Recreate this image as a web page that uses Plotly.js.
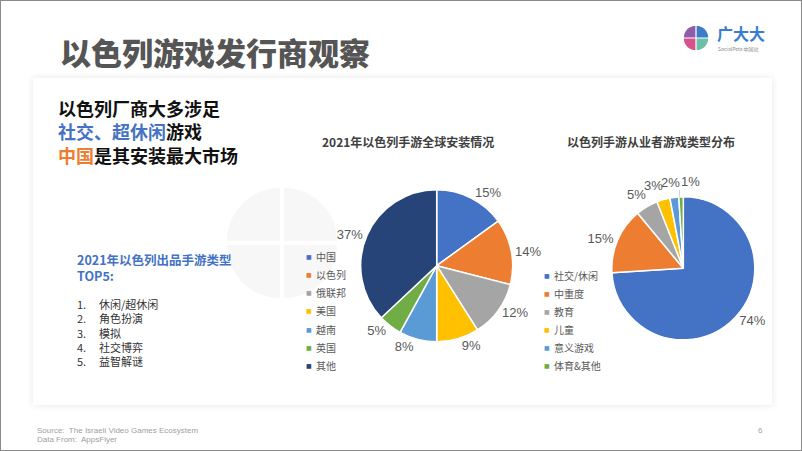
<!DOCTYPE html>
<html>
<head>
<meta charset="utf-8">
<script src="https://cdn.plot.ly/plotly-3.0.1.min.js"></script>
<style>
html,body{margin:0;padding:0;background:#fff;}
#wrap{position:relative;width:802px;height:451px;overflow:hidden;background:#fff;}
#card{position:absolute;left:33px;top:78px;width:739px;height:327px;background:#fff;box-shadow:0 0 7px rgba(0,0,0,0.10);}
#plot{position:absolute;left:0;top:0;width:802px;height:451px;}
#frame{position:absolute;left:0;top:0;width:802px;height:451px;box-sizing:border-box;border:1px solid #8a8a8a;pointer-events:none;}
</style>
</head>
<body>
<div id="wrap"><div id="card"></div><div id="plot"></div><div id="frame"></div></div>
<script>
// ---- data ----
const installCountries = ['中国','以色列','俄联邦','美国','越南','英国','其他'];
const installShares = [15, 14, 12, 9, 8, 5, 37];
const installColors = ['#4472C4','#ED7D31','#A5A5A5','#FFC000','#5B9BD5','#70AD47','#264478'];

const genreTypes = ['社交/休闲','中重度','教育','儿童','意义游戏','体育&其他'];
const genreShares = [74, 15, 5, 3, 2, 1];
const genreColors = ['#4472C4','#ED7D31','#A5A5A5','#FFC000','#5B9BD5','#70AD47'];

const top5Genres = ['休闲/超休闲','角色扮演','模拟','社交博弈','益智解谜'];

const pageTitle = '以色列游戏发行商观察';
const chart1Title = '2021年以色列手游全球安装情况';
const chart2Title = '以色列手游从业者游戏类型分布';

// ---- helpers ----
const W = 802, H = 451;
const px = x => x / W;
const py = y => 1 - y / H;
const CJK = '"Noto Sans CJK SC", "Noto Sans", sans-serif';
const NUMF = '"Liberation Sans Narrow", "Liberation Sans", sans-serif';

function pieDomain(cx, cy, r) {
  return { x: [px(cx - r), px(cx + r)], y: [py(cy + r), py(cy - r)] };
}

function quadrantShapes(cx, cy, r, gap, colors) {
  const quads = [[-90, 0], [0, 90], [90, 180], [180, 270]];
  return quads.map((q, i) => {
    const mid = (q[0] + q[1]) / 2 * Math.PI / 180;
    const ox = cx + gap * Math.cos(mid) * 0.7071;
    const oy = cy + gap * Math.sin(mid) * 0.7071;
    let d = 'M' + px(ox) + ',' + py(oy);
    for (let a = q[0]; a <= q[1]; a += 3) {
      const t = a * Math.PI / 180;
      d += ' L' + px(ox + r * Math.cos(t)) + ',' + py(oy + r * Math.sin(t));
    }
    d += ' Z';
    return { type: 'path', xref: 'paper', yref: 'paper', path: d,
      fillcolor: colors[i], line: { width: 0 }, layer: 'below' };
  });
}

function ann(text, x, y, opts) {
  opts = opts || {};
  return Object.assign({
    text: text, x: px(x), y: py(y), xref: 'paper', yref: 'paper',
    xanchor: 'left', yanchor: 'middle', align: 'left', showarrow: false,
    font: { family: CJK, size: 12, color: '#404040' }
  }, opts);
}

// pie 2 geometry (layout)
const p2 = { cx: 683.3, cy: 268.3, r: 71.5 };
const SMALL = 10; // slices below this share get their label placed by annotation
const labelFont = { family: NUMF, size: 13, color: '#595959' };

// ---- traces ----
const traces = [
  {
    type: 'pie', labels: installCountries, values: installShares,
    marker: { colors: installColors, line: { color: '#ffffff', width: 1.5 } },
    sort: false, direction: 'clockwise', rotation: 0,
    textposition: 'outside', texttemplate: '%{value}%',
    textfont: labelFont,
    domain: pieDomain(436.7, 265.7, 76), showlegend: false, hoverinfo: 'label+percent'
  },
  {
    type: 'pie', labels: genreTypes, values: genreShares,
    marker: { colors: genreColors, line: { color: '#ffffff', width: 1.5 } },
    sort: false, direction: 'clockwise', rotation: 0,
    textposition: 'outside',
    texttemplate: genreShares.map(v => v >= SMALL ? '%{value}%' : ''),
    textfont: labelFont,
    domain: pieDomain(p2.cx, p2.cy, p2.r), showlegend: false, hoverinfo: 'label+percent'
  }
];

// ---- annotations ----
const annotations = [];
annotations.push(ann(pageTitle, 58, 52, { font: { family: CJK, size: 31, color: '#555555', weight: 900 } }));

annotations.push(ann('<b>以色列厂商大多涉足<br><span style="color:#4472C4">社交、超休闲</span>游戏<br><span style="color:#ED7D31">中国</span>是其安装最大市场</b>',
  56, 131.5, { font: { family: CJK, size: 18, color: '#111111' } }));

annotations.push(ann('<b>2021年以色列出品手游类型<br>TOP5:</b>', 75, 267, { font: { family: CJK, size: 12.5, color: '#4472C4' } }));
annotations.push(ann(top5Genres.map((g, i) => (i + 1) + '.').join('<br>'), 75, 332, { font: { family: CJK, size: 11, color: '#333333' } }));
annotations.push(ann(top5Genres.join('<br>'), 97, 332, { font: { family: CJK, size: 11, color: '#333333' } }));

annotations.push(ann('<b>' + chart1Title + '</b>', 407.5, 141.5, { xanchor: 'center', font: { family: CJK, size: 12, color: '#404040' } }));
annotations.push(ann('<b>' + chart2Title + '</b>', 651, 141, { xanchor: 'center', font: { family: CJK, size: 12, color: '#404040' } }));

// legends
installCountries.forEach((c, i) => {
  const y = 256 + i * 18.3;
  annotations.push(ann('■', 309.3, y, { xanchor: 'center', font: { family: '"DejaVu Sans", sans-serif', size: 6, color: installColors[i] } }));
  annotations.push(ann(c, 314, y, { font: { family: CJK, size: 10, color: '#595959' } }));
});
genreTypes.forEach((c, i) => {
  const y = 275.7 + i * 18.0;
  annotations.push(ann('■', 546.7, y, { xanchor: 'center', font: { family: '"DejaVu Sans", sans-serif', size: 6, color: genreColors[i] } }));
  annotations.push(ann(c, 551.5, y, { font: { family: CJK, size: 10, color: '#595959' } }));
});

// pie 2 small-slice labels: radial position from the data, then spread right-to-left
(function () {
  const total = genreShares.reduce((a, b) => a + b, 0);
  let cum = 0;
  const pts = [];
  genreShares.forEach((v, i) => {
    const midFrac = (cum + v / 2) / total;
    cum += v;
    if (v >= SMALL) return;
    const ang = midFrac * 2 * Math.PI; // clockwise from 12 o'clock
    const dx = Math.sin(ang), dy = -Math.cos(ang);
    pts.push({ v: v, dx: dx, dy: dy,
      x: p2.cx + 88 * dx, y: p2.cy + 88 * dy + 2,
      ex: p2.cx + p2.r * dx, ey: p2.cy + p2.r * dy });
  });
  let prevX = null;
  for (let k = pts.length - 1; k >= 0; k--) {
    const p = pts[k];
    if (k === pts.length - 1) {
      const tx = p.ex - 1.5, ty = p.ey - 7;
      annotations.push({ x: px(p.ex - 1.5), y: py(p.ey), xref: 'paper', yref: 'paper',
        text: p.v + '%', showarrow: true, arrowhead: 0, arrowwidth: 0.7, arrowcolor: '#bfbfbf',
        ax: tx - (p.ex - 1.5), ay: ty - p.ey, xanchor: 'left', yanchor: 'bottom', standoff: 0,
        borderpad: 0, font: labelFont });
      prevX = tx + 8;
    } else {
      const x = prevX === null ? p.x : Math.min(p.x, prevX - 17);
      prevX = x;
      annotations.push(ann(p.v + '%', x, p.y, { xanchor: 'center', font: labelFont }));
    }
  }
})();

// footer
const foot = { family: '"Liberation Sans Narrow", "Liberation Sans", sans-serif', size: 8, color: '#a0a0a0' };
annotations.push(ann('Source:  The Israeli Video Games Ecosystem', 35, 430, { font: foot }));
annotations.push(ann('Data From:  AppsFlyer', 35, 439, { font: foot }));
annotations.push(ann('6', 760, 430, { xanchor: 'center', font: foot }));

// logo text
annotations.push(ann('<b>广大大</b>', 715, 33, { font: { family: CJK, size: 16, color: '#3A7BD5' } }));
annotations.push(ann('SocialPeta 中国站', 716, 49, { font: { family: CJK, size: 5, color: '#8a8a8a' } }));

// ---- shapes (logo + watermark) ----
const shapes = []
  .concat(quadrantShapes(282, 243, 53, 4, ['#f7f7f7', '#f7f7f7', '#f7f7f7', '#f7f7f7']))
  .concat(quadrantShapes(696, 38, 11.5, 1.2, ['#3D7CC9', '#6CC0A8', '#D5528A', '#8E5EA8']));

const layout = {
  width: W, height: H,
  margin: { l: 0, r: 0, t: 0, b: 0 },
  paper_bgcolor: 'rgba(0,0,0,0)', plot_bgcolor: 'rgba(0,0,0,0)',
  showlegend: false,
  annotations: annotations,
  shapes: shapes,
  font: { family: CJK }
};

Plotly.newPlot('plot', traces, layout, { staticPlot: true, displayModeBar: false });
</script>
</body>
</html>
